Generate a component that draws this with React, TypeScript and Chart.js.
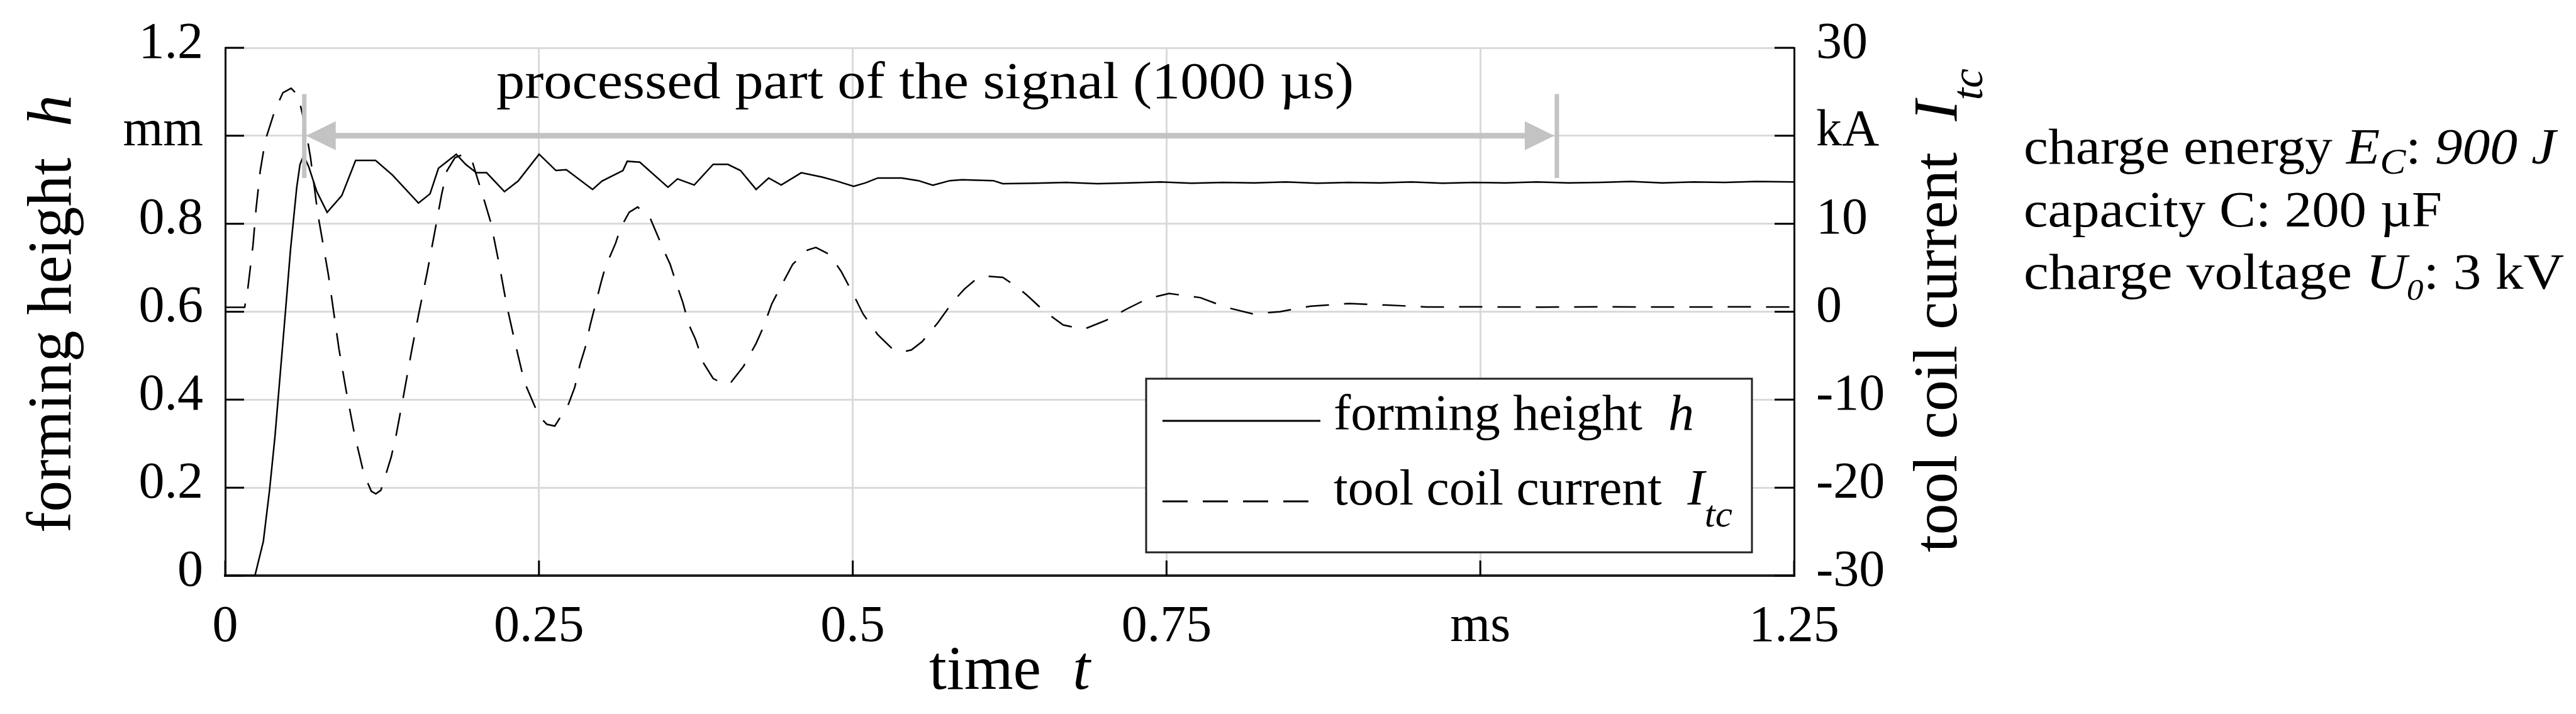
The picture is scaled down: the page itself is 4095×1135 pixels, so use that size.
import React, { useEffect, useRef } from 'react';
import { Chart, registerables } from 'chart.js';

Chart.register(...registerables);

// ---------------- data ----------------
const heightTime = [
  0, 0.0237, 0.0304, 0.0354, 0.0396, 0.0438, 0.048, 0.052, 0.057, 0.0596, 0.0625, 0.0665, 0.073,
  0.0812, 0.0929, 0.1039, 0.1198, 0.1332, 0.154, 0.1632, 0.1699, 0.1841, 0.1916, 0.2, 0.2083,
  0.2225, 0.2334, 0.2501, 0.2635, 0.2718, 0.2927, 0.3002, 0.3169, 0.3203, 0.3303, 0.3528, 0.3604,
  0.3737, 0.3888, 0.4005, 0.4105, 0.423, 0.433, 0.443, 0.459, 0.4756, 0.4873, 0.5007, 0.5102, 0.52,
  0.539, 0.5523, 0.5638, 0.5774, 0.587, 0.612, 0.6195, 0.645, 0.67, 0.695, 0.72, 0.745, 0.77, 0.795,
  0.82, 0.845, 0.87, 0.895, 0.92, 0.945, 0.97, 0.995, 1.02, 1.045, 1.07, 1.095, 1.12, 1.145, 1.17,
  1.195, 1.22, 1.25,
];
const heightValues = [
  0, 0, 0.078, 0.196, 0.315, 0.457, 0.6, 0.74, 0.883, 0.935, 0.955, 0.93, 0.873,
  0.826, 0.864, 0.944, 0.944, 0.911, 0.847, 0.868, 0.926, 0.958, 0.935, 0.916, 0.916,
  0.873, 0.897, 0.958, 0.921, 0.923, 0.878, 0.897, 0.921, 0.942, 0.94, 0.883, 0.902,
  0.888, 0.935, 0.935, 0.921, 0.878, 0.904, 0.888, 0.916, 0.906, 0.897, 0.885, 0.893, 0.904,
  0.904, 0.898, 0.8875, 0.898, 0.9, 0.898, 0.891, 0.892, 0.894, 0.891, 0.893, 0.895, 0.892, 0.894,
  0.893, 0.895, 0.892, 0.894, 0.893, 0.895, 0.892, 0.894, 0.893, 0.895, 0.893, 0.894, 0.896, 0.893, 0.895,
  0.894, 0.896, 0.895,
];

const currentTime = [
  0, 0.0095, 0.0155, 0.018, 0.0221, 0.0246, 0.0279, 0.032, 0.0396, 0.046, 0.0525, 0.058, 0.0615,
  0.0655, 0.068, 0.0738, 0.0782, 0.0822, 0.0864, 0.0906, 0.0964, 0.1031, 0.1106, 0.1164, 0.12, 0.124,
  0.128, 0.1323, 0.1365, 0.1424, 0.1482, 0.1541, 0.1607, 0.1666, 0.1724, 0.1766, 0.183, 0.19, 0.197,
  0.2067, 0.2117, 0.2184, 0.2242, 0.2309, 0.2384, 0.2501, 0.2563, 0.2626, 0.2735, 0.2785, 0.2827,
  0.2868, 0.291, 0.2944, 0.2994, 0.3027, 0.3111, 0.3152, 0.3219, 0.3286, 0.3387, 0.3503, 0.3545,
  0.3604, 0.3645, 0.3695, 0.3746, 0.3813, 0.3888, 0.3971, 0.4021, 0.413, 0.423, 0.4289, 0.4355,
  0.4406, 0.4522, 0.4639, 0.4706, 0.4815, 0.4907, 0.5007, 0.5084, 0.5199, 0.5314, 0.539, 0.5467,
  0.5553, 0.5679, 0.5794, 0.5889, 0.5966, 0.6043, 0.6196, 0.631, 0.6388, 0.6521, 0.6676, 0.684,
  0.7022, 0.7175, 0.7348, 0.752, 0.7769, 0.7974, 0.8189, 0.8404, 0.8649, 0.8956, 0.9262, 0.957,
  1.0, 1.05, 1.1, 1.15, 1.2, 1.25,
];
const currentValues = [
  0.5, 0.5, 0.5, 2.6, 7.5, 11.7, 16.0, 19.5, 22.9, 24.9, 25.4, 24.6, 22.5,
  19.6, 17.5, 11.1, 7.5, 4.2, 0.0, -4.2, -9.0, -14.0, -18.5, -20.4, -20.7, -20.3,
  -18.5, -16.5, -13.8, -9.3, -4.7, -0.3, 4.3, 8.8, 13.3, 16.0, 17.5, 17.9, 17.0,
  12.5, 10.1, 5.3, 0.8, -3.5, -8.0, -11.9, -12.8, -13.0, -10.5, -8.6, -6.0,
  -4.1, -1.4, 0.5, 3.3, 5.0, 7.8, 9.6, 11.3, 11.9, 10.6, 6.7, 5.4,
  2.8, 1.1, -1.5, -3.1, -5.9, -7.6, -8.2, -8.2, -6.2, -3.6, -1.7, 0.9,
  2.3, 5.4, 7.0, 7.3, 6.5, 4.6, 1.9, -0.3, -2.6, -4.2, -4.6, -4.35,
  -3.4, -1.24, 1.07, 2.57, 3.5, 4.06, 3.9, 2.8, 1.88, 0.12, -1.5, -2.0,
  -0.96, 0.25, 1.48, 2.07, 1.6, 0.5, -0.25, 0.0, 0.63, 0.93, 0.75, 0.54,
  0.55, 0.52, 0.55, 0.53, 0.55, 0.54,
];

const timeTickLabels = ['0', '0.25', '0.5', '0.75', 'ms', '1.25'];
const heightTickLabels = ['0', '0.2', '0.4', '0.6', '0.8', 'mm', '1.2'];
const currentTickLabels = ['-30', '-20', '-10', '0', '10', 'kA', '30'];

// processed window annotation (ms / mm)
const processedStart = 0.063;
const processedEnd = 1.061;
const processedLevel = 1.0;
const markerTop = 1.095;
const markerBottom = 0.904;
const processedLabel = 'processed part of the signal (1000 µs)';

const seriesNames = ['forming height', 'tool coil current'];

// ---------------- drawing helpers ----------------
const FAMILY = '"Liberation Serif", "Times New Roman", serif';

type Run = { text: string; italic?: boolean; scale?: number; dy?: number };

function drawRich(
  ctx: CanvasRenderingContext2D,
  runs: Run[],
  x: number,
  y: number,
  size: number,
  opts: { targetWidth?: number; rotate?: number; align?: 'left' | 'center' } = {}
) {
  ctx.save();
  ctx.translate(x, y);
  if (opts.rotate) ctx.rotate(opts.rotate);
  const fonts = runs.map(
    (r) => `${r.italic ? 'italic ' : ''}${Math.round(size * (r.scale ?? 1))}px ${FAMILY}`
  );
  let total = 0;
  const widths = runs.map((r, i) => {
    ctx.font = fonts[i];
    const w = ctx.measureText(r.text).width;
    total += w;
    return w;
  });
  const sx = opts.targetWidth ? opts.targetWidth / total : 1;
  ctx.scale(sx, 1);
  let cx = opts.align === 'center' ? -total / 2 : 0;
  ctx.textAlign = 'left';
  ctx.textBaseline = 'alphabetic';
  ctx.fillStyle = '#000';
  runs.forEach((r, i) => {
    ctx.font = fonts[i];
    ctx.fillText(r.text, cx, (r.dy ?? 0) * size);
    cx += widths[i];
  });
  ctx.restore();
}

const decorPlugin = {
  id: 'decor',
  afterDraw(chart: any) {
    const ctx: CanvasRenderingContext2D = chart.ctx;
    const area = chart.chartArea;
    const xs = chart.scales.x;
    const ys = chart.scales.y;
    const y2 = chart.scales.y2;

    // inward tick marks
    ctx.save();
    ctx.strokeStyle = '#000';
    ctx.lineWidth = 3;
    ctx.beginPath();
    ys.ticks.forEach((t: any) => {
      const py = ys.getPixelForValue(t.value);
      ctx.moveTo(area.left, py);
      ctx.lineTo(area.left + 30, py);
    });
    y2.ticks.forEach((t: any) => {
      const py = y2.getPixelForValue(t.value);
      ctx.moveTo(area.right, py);
      ctx.lineTo(area.right - 31, py);
    });
    xs.ticks.forEach((t: any) => {
      const px = xs.getPixelForValue(t.value);
      ctx.moveTo(px, area.bottom);
      ctx.lineTo(px, area.bottom - 24);
    });
    ctx.stroke();
    ctx.restore();

    // processed window annotation
    const gray = '#c3c3c3';
    const xa = xs.getPixelForValue(processedStart);
    const xb = xs.getPixelForValue(processedEnd);
    const ya = ys.getPixelForValue(processedLevel);
    const yTop = ys.getPixelForValue(markerTop);
    const yBot = ys.getPixelForValue(markerBottom);
    ctx.save();
    ctx.strokeStyle = gray;
    ctx.fillStyle = gray;
    ctx.lineWidth = 7;
    ctx.beginPath();
    ctx.moveTo(xa, yTop);
    ctx.lineTo(xa, yBot);
    ctx.moveTo(xb, yTop);
    ctx.lineTo(xb, yBot);
    ctx.stroke();
    const headL = 47;
    const headW = 23;
    const tipA = xa + 3;
    const tipB = xb - 4;
    ctx.lineWidth = 9;
    ctx.beginPath();
    ctx.moveTo(tipA + headL - 2, ya);
    ctx.lineTo(tipB - headL + 2, ya);
    ctx.stroke();
    ctx.beginPath();
    ctx.moveTo(tipA, ya);
    ctx.lineTo(tipA + headL, ya - headW);
    ctx.lineTo(tipA + headL, ya + headW);
    ctx.closePath();
    ctx.fill();
    ctx.beginPath();
    ctx.moveTo(tipB, ya);
    ctx.lineTo(tipB - headL, ya - headW);
    ctx.lineTo(tipB - headL, ya + headW);
    ctx.closePath();
    ctx.fill();
    ctx.restore();

    drawRich(ctx, [{ text: processedLabel }], area.left + 431, area.top + 80, 83, {
      targetWidth: 1363,
    });

    // legend box
    const lgLeft = area.right - 1030;
    const lgTop = area.top + 526;
    ctx.save();
    ctx.fillStyle = '#fff';
    ctx.fillRect(lgLeft, lgTop, 963, 276);
    ctx.strokeStyle = '#222';
    ctx.lineWidth = 3;
    ctx.strokeRect(lgLeft, lgTop, 963, 276);
    const ds = chart.data.datasets;
    ctx.strokeStyle = ds[0].borderColor;
    ctx.lineWidth = 3;
    ctx.beginPath();
    ctx.moveTo(lgLeft + 26, lgTop + 67);
    ctx.lineTo(lgLeft + 277, lgTop + 67);
    ctx.stroke();
    ctx.strokeStyle = ds[1].borderColor;
    ctx.setLineDash([40, 24]);
    ctx.beginPath();
    ctx.moveTo(lgLeft + 26, lgTop + 195);
    ctx.lineTo(lgLeft + 258, lgTop + 195);
    ctx.stroke();
    ctx.restore();
    drawRich(
      ctx,
      [{ text: seriesNames[0] + '  ' }, { text: 'h', italic: true }],
      lgLeft + 298,
      lgTop + 81,
      80,
      { targetWidth: 573 }
    );
    drawRich(
      ctx,
      [
        { text: seriesNames[1] + '  ' },
        { text: 'I', italic: true },
        { text: 'tc', italic: true, scale: 0.75, dy: 0.44 },
      ],
      lgLeft + 298,
      lgTop + 200,
      80,
      { targetWidth: 634 }
    );

    // axis titles
    drawRich(
      ctx,
      [{ text: 'forming height  ' }, { text: 'h', italic: true }],
      area.left - 246,
      area.bottom - 68,
      100,
      { rotate: -Math.PI / 2, targetWidth: 696 }
    );
    drawRich(
      ctx,
      [
        { text: 'tool coil current  ' },
        { text: 'I', italic: true },
        { text: 'tc', italic: true, scale: 0.7, dy: 0.41 },
      ],
      area.right + 258,
      area.bottom - 37,
      100,
      { rotate: -Math.PI / 2, targetWidth: 769 }
    );
    drawRich(
      ctx,
      [{ text: 'time  ' }, { text: 't', italic: true }],
      (area.left + area.right) / 2,
      area.bottom + 180,
      100,
      { align: 'center', targetWidth: 256 }
    );

    // parameter block
    const bx = area.right + 365;
    drawRich(
      ctx,
      [
        { text: 'charge energy ' },
        { text: 'E', italic: true },
        { text: 'C', italic: true, scale: 0.7, dy: 0.2 },
        { text: ': ' },
        { text: '900 J', italic: true },
      ],
      bx,
      area.top + 184,
      80,
      { targetWidth: 846 }
    );
    drawRich(ctx, [{ text: 'capacity C: 200 µF' }], bx, area.top + 284, 80, { targetWidth: 665 });
    drawRich(
      ctx,
      [
        { text: 'charge voltage ' },
        { text: 'U', italic: true },
        { text: '0', italic: true, scale: 0.6, dy: 0.22 },
        { text: ': 3 kV' },
      ],
      bx,
      area.top + 383,
      80,
      { targetWidth: 859 }
    );
  },
};

export default function App() {
  const ref = useRef<HTMLCanvasElement | null>(null);

  useEffect(() => {
    if (!ref.current) return;
    Chart.defaults.font.family = FAMILY;
    const tickFont = { family: FAMILY, size: 82, lineHeight: 1 };
    const chart = new Chart(ref.current, {
      type: 'line',
      data: {
        datasets: [
          {
            label: seriesNames[0],
            data: heightTime.map((t, i) => ({ x: t, y: heightValues[i] })),
            borderColor: '#000',
            borderWidth: 2.5,
            pointRadius: 0,
            tension: 0,
            yAxisID: 'y',
          },
          {
            label: seriesNames[1],
            data: currentTime.map((t, i) => ({ x: t, y: currentValues[i] })),
            borderColor: '#000',
            borderWidth: 2.5,
            borderDash: [37, 24],
            pointRadius: 0,
            tension: 0,
            yAxisID: 'y2',
          },
        ],
      },
      options: {
        responsive: false,
        animation: false,
        devicePixelRatio: 1,
        layout: { padding: { top: 70, right: 943, bottom: 0, left: 0 } },
        plugins: { legend: { display: false }, tooltip: { enabled: false } },
        scales: {
          x: {
            type: 'linear',
            min: 0,
            max: 1.25,
            ticks: {
              stepSize: 0.25,
              autoSkip: false,
              maxRotation: 0,
              padding: 41,
              color: '#000',
              font: tickFont,
              callback: (_v: any, i: number) => timeTickLabels[i] ?? '',
            },
            grid: { color: '#dadada', lineWidth: 3, drawTicks: false },
            border: { display: true, color: '#1e1e1e', width: 4 },
            afterFit: (s: any) => {
              s.height = 220;
            },
          },
          y: {
            position: 'left',
            min: 0,
            max: 1.2,
            ticks: {
              stepSize: 0.2,
              padding: 35,
              labelOffset: -6,
              color: '#000',
              font: tickFont,
              callback: (_v: any, i: number) => heightTickLabels[i] ?? '',
            },
            grid: { color: '#dadada', lineWidth: 3, drawTicks: false },
            border: { display: true, color: '#000', width: 3 },
            afterFit: (s: any) => {
              s.width = 358;
            },
          },
          y2: {
            position: 'right',
            min: -30,
            max: 30,
            ticks: {
              stepSize: 10,
              padding: 35,
              labelOffset: -6,
              color: '#000',
              font: tickFont,
              callback: (_v: any, i: number) => currentTickLabels[i] ?? '',
            },
            grid: { drawOnChartArea: false, drawTicks: false },
            border: { display: true, color: '#000', width: 3 },
            afterFit: (s: any) => {
              s.width = 300;
            },
          },
        },
      } as any,
      plugins: [decorPlugin],
    });
    return () => chart.destroy();
  }, []);

  return (
    <div style={{ position: 'absolute', left: 0, top: 0, width: 4095, height: 1135, background: '#fff' }}>
      <canvas ref={ref} width={4095} height={1135} style={{ display: 'block', width: 4095, height: 1135 }} />
    </div>
  );
}
